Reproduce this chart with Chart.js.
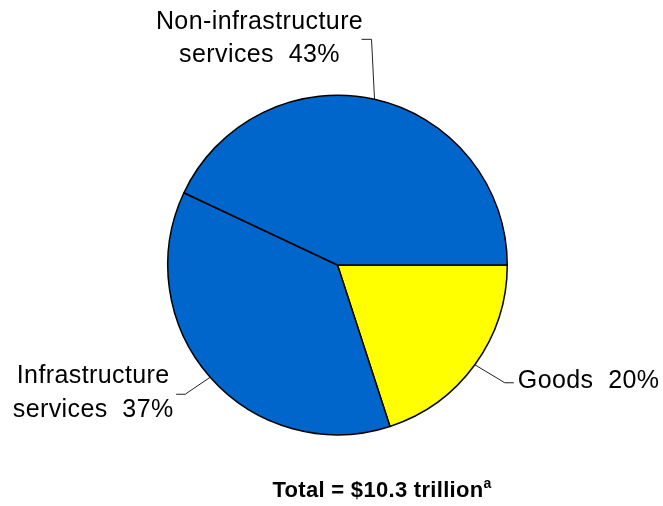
<!DOCTYPE html>
<html>
<head>
<meta charset="utf-8">
<script src="https://cdn.jsdelivr.net/npm/chart.js@4.4.0/dist/chart.umd.min.js"></script>
<style>
  html, body { margin: 0; padding: 0; background: #fff; }
  #wrap { width: 663px; height: 506px; position: relative; }
</style>
</head>
<body>
<div id="wrap"><canvas id="pie"></canvas></div>
<script>
// Share of total, in percent
const categories = ['Goods', 'Infrastructure services', 'Non-infrastructure services'];
const shares = [20, 37, 43];
const sliceColors = ['#FFFF00', '#0066CC', '#0066CC'];
// Label text, one array of lines per slice; the share is appended to the last line
const labelLines = [
    ['Goods'],
    ['Infrastructure', 'services'],
    ['Non-infrastructure', 'services']
];
const totalText = 'Total = $10.3 trillion';
const totalNote = 'a';

const FONT = '"Liberation Sans", Arial, Helvetica, sans-serif';

// Where each label and its leader line go, relative to the slice's outer mid point
const labelLayout = [
    { elbow: [30, 18], end: [39, 18], align: 'left', x: 43, baselines: [23] },
    { elbow: [-25, 17], end: [-34, 17], align: 'center', x: -117, baselines: [6, 40] },
    { elbow: [-3, -60], end: [-13, -60], align: 'center', x: -115, baselines: [-70, -37] }
];

const outsideLabels = {
    id: 'outsideLabels',
    afterDraw(chart) {
        const ctx = chart.ctx;
        const arcs = chart.getDatasetMeta(0).data;
        ctx.save();
        arcs.forEach((arc, i) => {
            const p = arc.getProps(['x', 'y', 'startAngle', 'endAngle', 'outerRadius'], true);
            const mid = (p.startAngle + p.endAngle) / 2;
            const ex = p.x + Math.cos(mid) * p.outerRadius;
            const ey = p.y + Math.sin(mid) * p.outerRadius;
            const lay = labelLayout[i];

            // leader line
            ctx.strokeStyle = '#222';
            ctx.lineWidth = 1;
            ctx.beginPath();
            ctx.moveTo(ex, ey);
            ctx.lineTo(ex + lay.elbow[0], ey + lay.elbow[1]);
            ctx.lineTo(ex + lay.end[0], ey + lay.end[1]);
            ctx.stroke();

            // label text
            ctx.fillStyle = '#000';
            ctx.font = '25px ' + FONT;
            ctx.letterSpacing = '0.4px';
            ctx.textAlign = lay.align;
            ctx.textBaseline = 'alphabetic';
            const lines = labelLines[i].slice();
            lines[lines.length - 1] += '  ' + shares[i] + '%';
            lines.forEach((line, j) => {
                ctx.fillText(line, ex + lay.x, ey + lay.baselines[j]);
            });
        });

        // total line with superscript note
        ctx.letterSpacing = '0.3px';
        ctx.font = 'bold 22px ' + FONT;
        ctx.textAlign = 'left';
        const w = ctx.measureText(totalText).width;
        ctx.font = 'bold 14px ' + FONT;
        const wn = ctx.measureText(totalNote).width;
        const x0 = 382 - (w + wn) / 2;
        ctx.font = 'bold 22px ' + FONT;
        ctx.fillText(totalText, x0, 497);
        ctx.font = 'bold 14px ' + FONT;
        ctx.fillText(totalNote, x0 + w, 488);
        ctx.restore();
    }
};

new Chart(document.getElementById('pie'), {
    type: 'pie',
    data: {
        labels: categories,
        datasets: [{
            data: shares,
            backgroundColor: sliceColors,
            borderColor: '#000',
            borderWidth: 1.5,
            hoverOffset: 0
        }]
    },
    options: {
        responsive: true,
        maintainAspectRatio: false,
        animation: false,
        rotation: 90,
        layout: {
            padding: { left: 167, right: 155, top: 94, bottom: 70 }
        },
        plugins: {
            legend: { display: false },
            tooltip: { enabled: false }
        }
    },
    plugins: [outsideLabels]
});
</script>
</body>
</html>
